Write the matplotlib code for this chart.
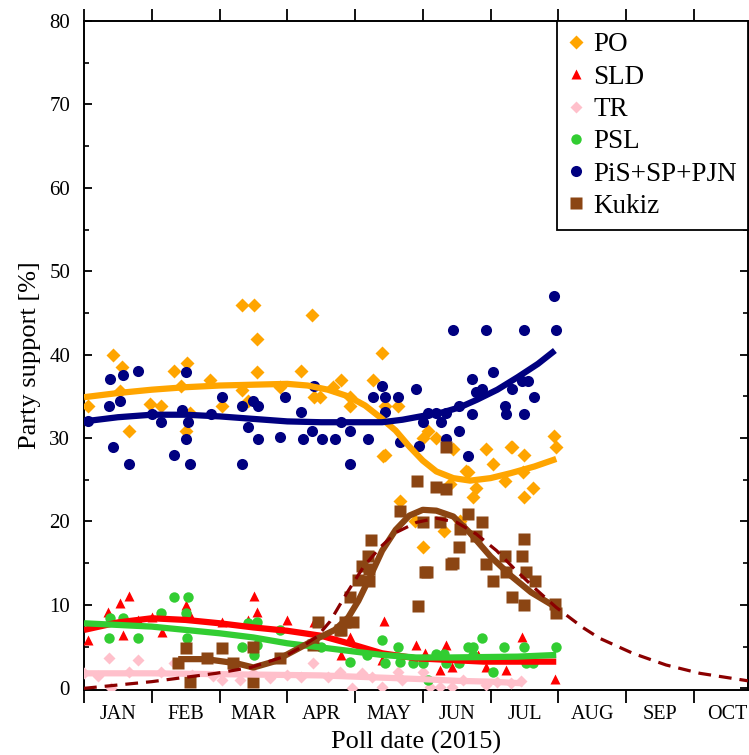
import matplotlib
matplotlib.use("Agg")
import matplotlib.pyplot as plt
from matplotlib.ticker import FixedLocator, NullFormatter, FixedFormatter, MultipleLocator

plt.rcParams['font.family'] = ['Liberation Serif', 'DejaVu Serif']

# x positions are in months since 1 Jan 2015 (0 = Jan 1, 1 = Feb 1, ...)
months = ['JAN', 'FEB', 'MAR', 'APR', 'MAY', 'JUN', 'JUL', 'AUG', 'SEP', 'OCT']

po_x = [0.06, 0.43, 0.56, 0.53, 0.66, 0.98, 1.13, 1.33, 1.43, 1.52, 1.50, 1.57, 1.86, 2.03, 2.33, 2.51,
        2.56, 2.56, 2.33, 2.42, 2.90, 3.21, 3.37, 3.39, 3.49, 3.80, 3.68, 3.93, 3.93, 4.40, 4.27, 4.44,
        4.64, 4.44, 5.00, 5.08, 5.20, 5.45, 5.94, 6.04, 6.30, 6.50, 6.93, 6.97, 5.64, 5.00, 4.66, 4.88,
        5.32, 5.55, 5.74, 5.67, 5.79, 6.21, 6.50, 6.63, 6.48, 6.31, 4.41, 5.40]
po_y = [33.8, 40.0, 38.5, 35.6, 30.9, 34.1, 33.9, 38.0, 36.3, 39.0, 30.9, 33.0, 37.0, 33.9, 46.0, 46.0,
        41.9, 37.9, 35.8, 34.5, 36.1, 38.0, 44.7, 34.9, 34.9, 37.0, 36.1, 34.9, 33.9, 40.2, 37.0, 33.9,
        33.9, 28.0, 30.0, 30.9, 30.0, 28.7, 28.7, 26.9, 28.9, 28.0, 30.2, 28.9, 26.1, 16.9, 22.4, 20.1,
        18.9, 20.1, 22.9, 25.9, 24.0, 24.9, 22.9, 24.0, 25.9, 28.9, 27.9, 24.5]

sld_x = [0.06, 0.35, 0.53, 0.66, 0.57, 0.80, 1.00, 1.15, 1.51, 1.55, 2.03, 2.42, 2.51, 2.56, 3.00, 3.39,
         3.80, 3.93, 4.43, 4.40, 4.90, 5.04, 5.26, 5.34, 5.43, 5.81, 5.94, 6.23, 6.47, 6.95]
sld_y = [5.8, 9.1, 10.2, 11.1, 6.4, 8.2, 8.5, 6.8, 10.0, 9.0, 7.9, 8.2, 11.1, 9.1, 8.2, 7.9,
         4.0, 6.1, 8.1, 3.4, 5.2, 4.2, 2.2, 5.2, 2.5, 4.0, 2.5, 2.2, 6.1, 1.1]

tr_x = [0.00, 0.20, 0.37, 0.40, 0.66, 0.80, 1.13, 1.33, 1.60, 1.90, 2.03, 2.30, 2.50, 2.75, 3.00, 3.20,
        3.38, 3.60, 3.78, 3.95, 4.10, 4.25, 4.40, 4.64, 4.70, 5.00, 5.10, 5.26, 5.43, 5.60, 5.94, 6.10, 6.30, 6.45]
tr_y = [1.8, 1.5, 3.6, 0.0, 2.0, 3.4, 2.0, 3.0, 1.6, 1.5, 1.0, 1.0, 1.8, 1.2, 1.6, 1.3,
        3.0, 1.4, 2.0, 0.0, 1.8, 1.4, 0.2, 2.0, 1.0, 2.0, 0.1, 0.1, 0.2, 1.0, 0.4, 0.8, 0.6, 0.9]

psl_x = [0.37, 0.39, 0.57, 0.80, 1.13, 1.33, 1.53, 1.50, 1.52, 2.42, 2.56, 2.33, 2.51, 2.90, 2.56,
         4.40, 3.93, 4.17, 4.44, 4.64, 4.66, 4.86, 5.00, 5.20, 5.32, 5.35, 5.54, 5.67, 5.74, 5.87,
         5.74, 6.04, 6.20, 6.50, 6.53, 6.63, 6.96, 5.08, 3.50]
psl_y = [6.0, 8.4, 8.4, 6.0, 9.0, 10.9, 10.9, 9.0, 6.0, 7.8, 8.0, 5.0, 4.0, 7.0, 5.2,
         5.8, 3.2, 4.0, 3.0, 5.0, 3.2, 3.0, 3.0, 4.1, 4.1, 3.0, 3.0, 5.0, 5.0, 6.0,
         4.0, 2.0, 5.0, 5.0, 3.0, 3.0, 5.0, 1.0, 5.0]

pis_x = [0.06, 0.37, 0.39, 0.43, 0.53, 0.57, 0.66, 0.80, 1.01, 1.13, 1.33, 1.44, 1.50, 1.50, 1.53, 1.56,
         1.87, 2.03, 2.33, 2.33, 2.42, 2.50, 2.57, 2.57, 2.90, 2.96, 3.21, 3.23, 3.37, 3.39, 3.51, 3.70,
         3.80, 3.93, 3.93, 4.19, 4.27, 4.40, 4.44, 4.44, 4.64, 4.66, 4.90, 4.94, 5.00, 5.08, 5.20, 5.27,
         5.34, 5.34, 5.54, 5.44, 5.54, 5.67, 5.73, 5.73, 5.79, 5.87, 5.93, 6.04, 6.21, 6.23, 6.31, 6.46,
         6.55, 6.50, 6.50, 6.64, 6.93, 6.97]
pis_y = [32.0, 33.9, 37.1, 28.9, 34.5, 37.6, 26.9, 38.1, 32.9, 31.9, 28.0, 33.4, 37.9, 29.9, 31.9, 26.9,
         32.9, 34.9, 33.9, 26.9, 31.3, 34.5, 33.9, 29.9, 30.1, 34.9, 33.1, 29.9, 30.9, 36.2, 29.9, 29.9,
         31.9, 30.9, 26.9, 29.9, 34.9, 36.3, 34.9, 33.1, 34.9, 29.5, 35.9, 29.0, 31.9, 33.0, 33.0, 31.9,
         33.0, 29.9, 30.9, 43.0, 33.9, 27.9, 37.1, 32.9, 35.5, 35.9, 43.0, 37.9, 33.9, 32.9, 35.9, 36.9,
         36.9, 32.9, 43.0, 34.9, 47.0, 42.9]

kuk_x = [1.39, 1.51, 1.56, 1.81, 2.03, 2.20, 2.50, 2.50, 2.89, 3.38, 3.46, 3.80, 3.85, 3.92, 3.97, 4.05,
         4.10, 4.93, 5.03, 5.42, 5.35, 4.91, 5.20, 5.34, 4.67, 5.67, 5.87, 5.00, 5.25, 5.55, 4.23, 5.54,
         5.79, 6.50, 6.47, 4.19, 5.44, 5.94, 6.21, 4.20, 5.06, 6.23, 6.53, 6.65, 4.20, 6.04, 6.31, 6.50,
         6.95, 6.97, 3.78]
kuk_y = [3.0, 4.8, 0.8, 3.6, 4.8, 3.0, 4.9, 0.8, 3.6, 5.2, 7.9, 7.0, 7.9, 10.9, 7.9, 13.0,
         14.7, 9.9, 13.9, 14.9, 28.9, 24.9, 24.1, 23.9, 21.3, 20.9, 19.9, 19.9, 19.9, 19.1, 17.8, 16.9,
         18.3, 17.9, 15.9, 15.9, 15.0, 14.9, 15.9, 14.3, 13.9, 13.9, 13.9, 12.9, 12.9, 12.9, 10.9, 10.0,
         10.1, 9.0, 7.0]

# smoothed trends
po_tx = [0.0, 0.5, 1.0, 1.5, 2.0, 2.5, 3.0, 3.3, 3.6, 3.9, 4.15, 4.4, 4.6, 4.8, 5.0, 5.2, 5.45, 5.7, 6.0, 6.3, 6.65, 6.97]
po_ty = [34.9, 35.4, 35.8, 36.1, 36.3, 36.4, 36.5, 36.3, 35.8, 35.0, 33.9, 32.3, 30.9, 29.0, 27.3, 26.0, 25.2, 24.9, 25.2, 25.8, 26.6, 27.5]
sld_tx = [0.0, 0.5, 1.0, 1.5, 2.0, 2.5, 3.0, 3.5, 3.9, 4.4, 4.9, 5.4, 5.9, 6.4, 6.97]
sld_ty = [7.0, 7.9, 8.4, 8.2, 7.8, 7.3, 6.9, 6.3, 5.4, 4.2, 3.6, 3.4, 3.2, 3.2, 3.2]
tr_tx = [0.0, 1.0, 2.0, 3.0, 3.5, 4.0, 4.5, 5.0, 5.5, 6.0, 6.48]
tr_ty = [1.8, 1.8, 1.7, 1.6, 1.55, 1.4, 1.25, 1.1, 0.9, 0.8, 0.6]
psl_tx = [0.0, 0.5, 1.0, 1.5, 2.0, 2.5, 3.0, 3.5, 3.9, 4.4, 4.9, 5.4, 5.9, 6.4, 6.97]
psl_ty = [7.8, 7.6, 7.4, 7.0, 6.6, 6.1, 5.4, 4.9, 4.5, 4.0, 3.7, 3.7, 3.75, 3.8, 4.0]
pis_tx = [0.0, 0.5, 1.0, 1.5, 2.0, 2.5, 3.0, 3.5, 4.0, 4.4, 4.7, 4.9, 5.1, 5.3, 5.55, 5.8, 6.1, 6.4, 6.7, 6.95]
pis_ty = [32.0, 32.5, 32.8, 32.8, 32.6, 32.3, 32.0, 31.9, 31.9, 31.9, 32.2, 32.5, 32.8, 33.1, 33.7, 34.6, 35.8, 37.3, 38.9, 40.5]
kuk_tx = [1.39, 1.8, 2.25, 2.5, 2.8, 3.1, 3.4, 3.7, 3.9, 4.05, 4.2, 4.4, 4.6, 4.8, 5.0, 5.2, 5.45, 5.7, 6.0, 6.3, 6.6, 6.97]
kuk_ty = [3.5, 3.5, 3.0, 2.5, 3.2, 4.5, 5.8, 7.0, 8.5, 10.5, 13.0, 16.5, 19.0, 20.7, 21.4, 21.3, 20.6, 18.6, 15.8, 13.5, 11.5, 9.7]
kfit_x = [0.0, 1.0, 1.95, 2.46, 2.95, 3.2, 3.44, 3.63, 3.87, 4.12, 4.37, 4.61, 4.91, 5.2, 5.5, 5.79, 6.09,
          6.38, 6.68, 6.97, 7.36, 7.61, 8.1, 8.59, 9.09, 9.8]
kfit_y = [0.0, 0.8, 1.8, 2.5, 3.8, 4.9, 6.2, 8.0, 11.3, 14.5, 16.9, 18.7, 19.9, 20.4, 19.9, 18.5, 16.5,
          14.1, 11.8, 9.7, 7.3, 6.0, 4.2, 2.8, 1.8, 0.9]

fig = plt.figure(figsize=(7.49, 7.55), dpi=100)
ax = fig.add_axes([84 / 749, 1 - 690 / 755, 664 / 749, 669 / 755])

c_po, c_sld, c_tr, c_psl, c_pis, c_kuk = '#FFA500', '#FF0000', '#FFC0CB', '#32CD32', '#000080', '#8B4513'

ax.plot(po_x, po_y, 'D', color=c_po, ms=7.3, mec='none', label='PO', zorder=3)
ax.plot(sld_x, sld_y, '^', color=c_sld, ms=7.2, mec='none', label='SLD', zorder=3)
ax.plot(tr_x, tr_y, 'D', color=c_tr, ms=5.8, mec='none', label='TR', zorder=3)
ax.plot(psl_x, psl_y, 'o', color=c_psl, ms=7.5, mec='none', label='PSL', zorder=3)
ax.plot(pis_x, pis_y, 'o', color=c_pis, ms=8, mec='none', label='PiS+SP+PJN', zorder=3)
ax.plot(kuk_x, kuk_y, 's', color=c_kuk, ms=8, mec='none', label='Kukiz', zorder=3)

lw = 4.5
ax.plot(po_tx, po_ty, '-', color=c_po, lw=lw, solid_capstyle='butt', zorder=4)
ax.plot(sld_tx, sld_ty, '-', color=c_sld, lw=lw, solid_capstyle='butt', zorder=4)
ax.plot(tr_tx, tr_ty, '-', color=c_tr, lw=lw, solid_capstyle='butt', zorder=4)
ax.plot(psl_tx, psl_ty, '-', color=c_psl, lw=lw, solid_capstyle='butt', zorder=4)
ax.plot(pis_tx, pis_ty, '-', color=c_pis, lw=lw, solid_capstyle='butt', zorder=4)
ax.plot(kuk_tx, kuk_ty, '-', color=c_kuk, lw=lw, solid_capstyle='butt', zorder=4)
ax.plot(kfit_x, kfit_y, '--', color='#8B0000', lw=2.3, dashes=(4, 2.5), zorder=5)

ax.set_xlim(0, 9.8)
ax.set_ylim(-0.2, 80)

ax.xaxis.set_major_locator(FixedLocator(list(range(0, 10))))
ax.xaxis.set_major_formatter(NullFormatter())
ax.xaxis.set_minor_locator(FixedLocator([i + 0.5 for i in range(len(months))]))
ax.xaxis.set_minor_formatter(FixedFormatter(months))
ax.tick_params(axis='x', which='major', direction='out', length=9, width=1.3, top=True, bottom=True)
ax.tick_params(axis='x', which='minor', length=0, labelsize=14.5, pad=11)

ax.yaxis.set_major_locator(MultipleLocator(10))
ax.yaxis.set_minor_locator(MultipleLocator(5))
ax.tick_params(axis='y', which='major', direction='in', length=6, width=1.3, left=True, right=True,
               labelsize=15, pad=10)
ax.tick_params(axis='y', which='minor', direction='in', length=3.5, width=1.2, left=True, right=True)

for s in ax.spines.values():
    s.set_linewidth(1.4)

ax.set_xlabel('Poll date (2015)', fontsize=19, labelpad=5)
ax.set_ylabel('Party support [%]', fontsize=19, labelpad=6)

leg = ax.legend(loc='upper right', bbox_to_anchor=(1.0, 1.0), borderaxespad=0, fontsize=19.5,
                frameon=True, fancybox=False, edgecolor='black', framealpha=1,
                handlelength=0.55, handletextpad=0.35, labelspacing=0.27, borderpad=0.42, numpoints=1)
leg.get_frame().set_linewidth(1.3)

fig.savefig('out.png', dpi=100)
